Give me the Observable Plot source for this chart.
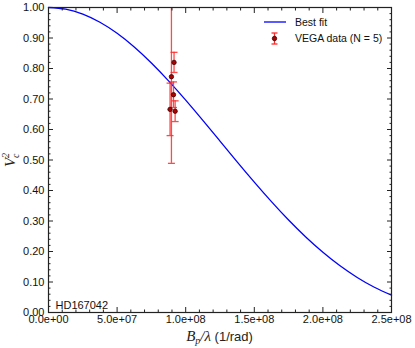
<!DOCTYPE html>
<html><head><meta charset="utf-8">
<script src="https://cdn.jsdelivr.net/npm/d3@7"></script>
<script src="https://cdn.jsdelivr.net/npm/@observablehq/plot@0.6"></script>
<style>
body{margin:0;background:#fff;}
#chart svg{display:block;}
</style></head><body><div id="chart"></div>
<script>
// Best-fit curve
const fitX = [0, 1.25e7, 2.5e7, 3.75e7, 5e7, 6.25e7, 7.5e7, 8.75e7, 1e8, 1.125e8, 1.25e8, 1.375e8, 1.5e8, 1.625e8, 1.75e8, 1.875e8, 2e8, 2.125e8, 2.25e8, 2.375e8, 2.5e8];
const fitV2 = [1.0000, 0.9945, 0.9783, 0.9516, 0.9154, 0.8705, 0.8180, 0.7595, 0.6963, 0.6300, 0.5620, 0.4940, 0.4274, 0.3634, 0.3031, 0.2476, 0.1974, 0.1531, 0.1148, 0.0828, 0.0567];
// VEGA data points
const dataX = [9.15e7, 8.96e7, 9.11e7, 8.86e7, 9.23e7];
const dataV2 = [0.820, 0.773, 0.714, 0.666, 0.660];
const dataErr = [0.033, 0.284, 0.042, 0.086, 0.034];
// Ticks
const xMajorTicks = [0, 5e7, 1e8, 1.5e8, 2e8, 2.5e8];
const xTickLabels = ["0.0e+00", "5.0e+07", "1.0e+08", "1.5e+08", "2.0e+08", "2.5e+08"];
const xMinorTicks = [1e7, 2e7, 3e7, 4e7, 6e7, 7e7, 8e7, 9e7, 1.1e8, 1.2e8, 1.3e8, 1.4e8, 1.6e8, 1.7e8, 1.8e8, 1.9e8, 2.1e8, 2.2e8, 2.3e8, 2.4e8];
const yMajorTicks = [0, 0.1, 0.2, 0.3, 0.4, 0.5, 0.6, 0.7, 0.8, 0.9, 1.0];
const yTickLabels = ["0.00", "0.10", "0.20", "0.30", "0.40", "0.50", "0.60", "0.70", "0.80", "0.90", "1.00"];
const yMinorTicks = [0.02,0.04,0.06,0.08,0.12,0.14,0.16,0.18,0.22,0.24,0.26,0.28,0.32,0.34,0.36,0.38,0.42,0.44,0.46,0.48,0.52,0.54,0.56,0.58,0.62,0.64,0.66,0.68,0.72,0.74,0.76,0.78,0.82,0.84,0.86,0.88,0.92,0.94,0.96,0.98];
const starName = "HD167042";
const legendLabels = ["Best fit", "VEGA data (N = 5)"];

const fit = fitX.map((x, i) => ({x, v: fitV2[i]}));
const obs = dataX.map((x, i) => ({x, v: dataV2[i], lo: dataV2[i] - dataErr[i], hi: dataV2[i] + dataErr[i]}));

const capSym = {draw(ctx) { ctx.moveTo(-3.5, 0); ctx.lineTo(3.5, 0); }};
const errColor = "#ff2a2a";
const axColor = "#222";

const plot = Plot.plot({
  width: 415, height: 348,
  marginLeft: 48, marginRight: 24, marginTop: 7, marginBottom: 36,
  style: {fontFamily: "'Liberation Sans', Arial, sans-serif", fontSize: "11px", color: "#111", background: "#fff"},
  x: {domain: [0, 2.5e8]},
  y: {domain: [0, 1]},
  marks: [
    Plot.line(fit, {x: "x", y: "v", stroke: "#0000ff", strokeWidth: 1.3, curve: "natural"}),
    Plot.ruleX(obs, {x: "x", y1: "lo", y2: "hi", stroke: errColor, strokeOpacity: 0.85, strokeWidth: 1.3, clip: true}),
    Plot.dot(obs, {x: "x", y: "lo", symbol: capSym, fill: "none", stroke: errColor, strokeOpacity: 0.85, strokeWidth: 1.3, clip: true}),
    Plot.dot(obs, {x: "x", y: "hi", symbol: capSym, fill: "none", stroke: errColor, strokeOpacity: 0.85, strokeWidth: 1.3, clip: true}),
    Plot.dot(obs, {x: "x", y: "v", r: 2.2, fill: "#b00000", stroke: "#3a0000", strokeWidth: 0.8}),
    Plot.axisX({ticks: xMajorTicks, tickFormat: d => xTickLabels[xMajorTicks.indexOf(d)], tickSize: -5, tickPadding: 8, label: null, stroke: axColor, fill: "#111"}),
    Plot.axisX({ticks: xMinorTicks, tickFormat: () => "", tickSize: -2.5, label: null, stroke: axColor}),
    Plot.axisX({anchor: "top", ticks: xMajorTicks, tickFormat: () => "", tickSize: -5, label: null, stroke: axColor}),
    Plot.axisX({anchor: "top", ticks: xMinorTicks, tickFormat: () => "", tickSize: -2.5, label: null, stroke: axColor}),
    Plot.axisY({ticks: yMajorTicks, tickFormat: d => yTickLabels[yMajorTicks.indexOf(d)], tickSize: -5, tickPadding: 9, label: null, stroke: axColor, fill: "#111"}),
    Plot.axisY({ticks: yMinorTicks, tickFormat: () => "", tickSize: -2.5, label: null, stroke: axColor}),
    Plot.axisY({anchor: "right", ticks: yMajorTicks, tickFormat: () => "", tickSize: -5, label: null, stroke: axColor}),
    Plot.axisY({anchor: "right", ticks: yMinorTicks, tickFormat: () => "", tickSize: -2.5, label: null, stroke: axColor}),
    Plot.frame({stroke: axColor, strokeWidth: 1.2}),
    Plot.text([starName], {frameAnchor: "bottom-left", dx: 7, dy: -4, textAnchor: "start", lineAnchor: "bottom", fontSize: 11, fill: "#111"})
  ]
});
document.getElementById("chart").appendChild(plot);

const svg = d3.select(plot);
const serif = "'Liberation Serif', 'DejaVu Serif', serif";
// Y label
const yl = svg.append("text").attr("transform", "translate(15,160) rotate(-90)")
  .attr("text-anchor", "middle").attr("font-family", serif).attr("font-style", "italic").attr("font-size", 15).attr("fill", "#222");
yl.append("tspan").text("V");
yl.append("tspan").attr("font-size", 10).attr("dy", 4).text("c");
yl.append("tspan").attr("font-size", 10).attr("dx", -4.5).attr("dy", -10).text("2");
// X label
const xl = svg.append("text").attr("x", 219.5).attr("y", 341).attr("text-anchor", "middle").attr("fill", "#222");
xl.append("tspan").attr("font-family", serif).attr("font-style", "italic").attr("font-size", 15).text("B");
xl.append("tspan").attr("font-family", serif).attr("font-style", "italic").attr("font-size", 10).attr("dy", 3).text("p");
xl.append("tspan").attr("font-family", serif).attr("font-style", "italic").attr("font-size", 15).attr("dy", -3).text("/λ");
xl.append("tspan").attr("font-family", "'Liberation Sans', Arial, sans-serif").attr("font-size", 13).text(" (1/rad)");
// Legend
const lg = svg.append("g").attr("font-family", "'Liberation Sans', Arial, sans-serif").attr("font-size", 10.5).attr("fill", "#111").attr("text-anchor", "start");
lg.append("line").attr("x1", 264).attr("x2", 286).attr("y1", 22).attr("y2", 22).attr("stroke", "#0000ff").attr("stroke-width", 1.3);
lg.append("text").attr("x", 295).attr("y", 22).attr("dy", "0.35em").attr("text-anchor", "start").text(legendLabels[0]);
lg.append("line").attr("x1", 274.5).attr("x2", 274.5).attr("y1", 33).attr("y2", 44).attr("stroke", errColor).attr("stroke-width", 1.3);
lg.append("line").attr("x1", 271.5).attr("x2", 277.5).attr("y1", 33).attr("y2", 33).attr("stroke", errColor).attr("stroke-width", 1.3);
lg.append("line").attr("x1", 271.5).attr("x2", 277.5).attr("y1", 44).attr("y2", 44).attr("stroke", errColor).attr("stroke-width", 1.3);
lg.append("circle").attr("cx", 274.5).attr("cy", 38.5).attr("r", 2.2).attr("fill", "#b00000").attr("stroke", "#3a0000").attr("stroke-width", 0.8);
lg.append("text").attr("x", 295).attr("y", 38.5).attr("dy", "0.35em").attr("text-anchor", "start").text(legendLabels[1]);
</script></body></html>
